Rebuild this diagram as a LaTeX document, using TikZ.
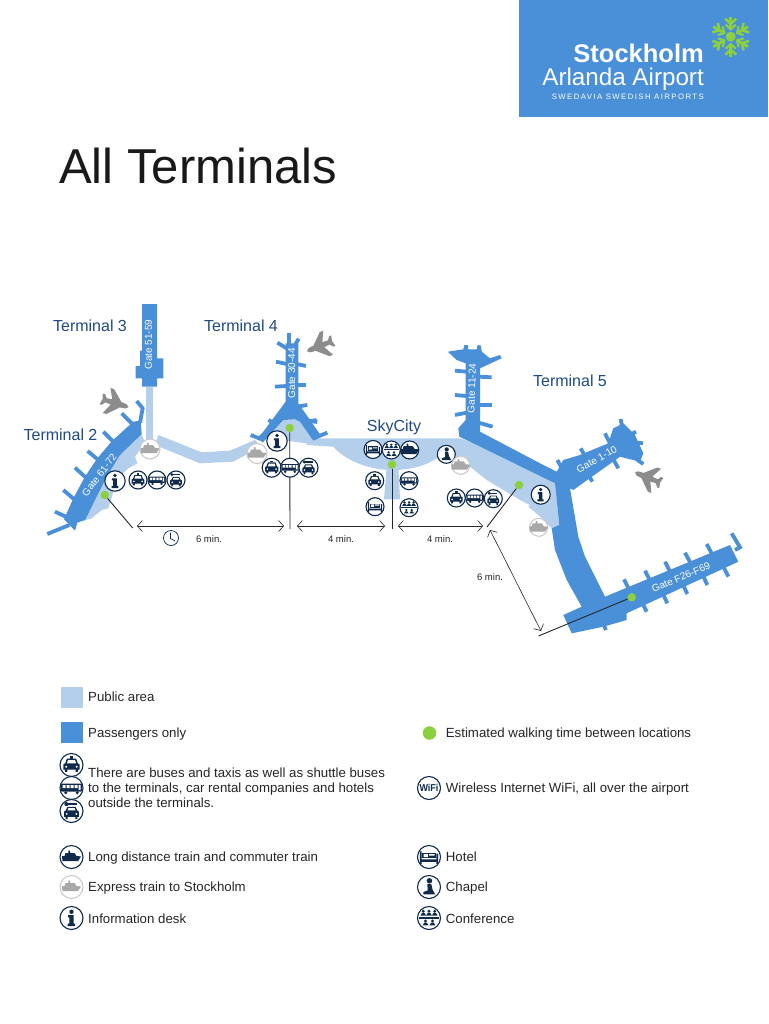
\documentclass[tikz,border=0pt]{standalone}
\usepackage{fontspec}
\setmainfont{Liberation Sans}
\newfontfamily\spacedfont[LetterSpace=18]{Liberation Sans}
\usetikzlibrary{arrows.meta}
\definecolor{pass}{HTML}{4A90D9}
\definecolor{pub}{HTML}{B3CFEC}
\definecolor{ink}{HTML}{0F2A4A}
\definecolor{lab}{HTML}{1F4A86}
\definecolor{dotg}{HTML}{8CCF3F}
\definecolor{txt}{HTML}{262626}
\definecolor{plane}{HTML}{8C8C8C}
\definecolor{exg}{HTML}{A8A8A8}
\tikzset{
  pf/.style={fill=pass,draw=none},
  pb/.style={fill=pub,draw=none},
  finger/.style={draw=pass,line width=3.8pt,line cap=butt},
  gatelab/.style={text=white,font=\fontsize{10}{12}\selectfont,inner sep=0pt},
  termlab/.style={text=lab,font=\fontsize{16}{18}\selectfont,inner sep=0pt},
  mins/.style={text=txt,font=\fontsize{9.5}{11}\selectfont,inner sep=0pt},
  legend/.style={text=txt,font=\fontsize{13.25}{15.3}\selectfont,inner sep=0pt,anchor=base west},
  walk/.style={draw=txt,line width=.9pt},
  span/.style={draw=txt,line width=.6pt,{Straight Barb[length=5pt,width=11pt]}-{Straight Barb[length=5pt,width=11pt]}},
  gdot/.style={circle,fill=dotg,draw=none,minimum size=8.5pt,inner sep=0pt},
  ring/.style={draw=ink,fill=white,line width=1.1pt},
  pics/taxi/.style={code={
    \draw[ring] (0,0) circle (10);
    \fill[ink] (-1.5,-7.5) rectangle (1.5,-5.5);
    \fill[ink] (-4,-5.5)--(4,-5.5)--(5.5,-1.5)--(7,-.5)--(7,4)--(5.7,4)--(5.7,6)--(3.5,6)--(3.5,4)--(-3.5,4)--(-3.5,6)--(-5.7,6)--(-5.7,4)--(-7,4)--(-7,-.5)--(-5.5,-1.5)--cycle;
    \fill[white] (-3,-4.2)--(3,-4.2)--(4,-1.5)--(-4,-1.5)--cycle;
    \fill[white] (-4.6,1.5) circle (1) (4.6,1.5) circle (1);
  }},
  pics/rental/.style={code={
    \draw[ring] (0,0) circle (10);
    \fill[ink] (-4.5,-6) circle (1.8);
    \fill[ink] (-4,-6.6) rectangle (4.5,-5.4);
    \fill[ink] (-3.5,-3.5)--(3.5,-3.5)--(5,-.5)--(6.5,.5)--(6.5,5)--(5.2,5)--(5.2,7)--(3.3,7)--(3.3,5)--(-3.3,5)--(-3.3,7)--(-5.2,7)--(-5.2,5)--(-6.5,5)--(-6.5,.5)--(-5,-.5)--cycle;
    \fill[white] (-2.6,-2.5)--(2.6,-2.5)--(3.5,-.5)--(-3.5,-.5)--cycle;
    \fill[white] (-4.2,2.5) circle (.9) (4.2,2.5) circle (.9);
  }},
  pics/bus/.style={code={
    \draw[ring] (0,0) circle (10);
    \fill[ink,rounded corners=.8] (-9,-3.8) rectangle (9,3.2);
    \fill[ink] (-5,4.2) circle (1.4) (5,4.2) circle (1.4);
    \fill[white] (-7.8,-2.6) rectangle (-5.2,0) (-4.3,-2.6) rectangle (-1.7,0) (-.8,-2.6) rectangle (1.8,0) (2.7,-2.6) rectangle (5.3,0) (6.2,-2.6) rectangle (8,1.8);
  }},
  pics/shipglyph/.style={code={
    \fill (-9.5,-1)--(-7,-1)--(-6,-4)--(-3.2,-4)--(-3.2,-6.5)--(-1.6,-6.5)--(-1.2,-4)--(3,-4)--(5,-1)--(9.5,-.6)--(6.5,4.2)--(-9,4.2)--cycle;
  }},
  pics/train/.style={code={
    \draw[ring] (0,0) circle (10);
    \pic[ink] {shipglyph};
  }},
  pics/express/.style={code={
    \draw[draw=exg!60,fill=white,line width=1.1pt] (0,0) circle (10);
    \pic[exg] {shipglyph};
  }},
  pics/info/.style={code={
    \draw[ring] (0,0) circle (10);
    \fill[ink] (0,-5.4) circle (1.9);
    \fill[ink] (-3,-2.6)--(1.8,-2.6)--(1.8,4.8)--(3.2,4.8)--(3.2,7)--(-3.4,7)--(-3.4,4.8)--(-1.8,4.8)--(-1.8,-.6)--(-3,-.6)--cycle;
  }},
  pics/hotel/.style={code={
    \draw[ring] (0,0) circle (10);
    \fill[ink] (-8,-5) rectangle (-6.5,6) (6.5,-3) rectangle (8,6) (-8,2) rectangle (8,4.2);
    \fill[ink] (-5.8,-3.5) rectangle (6,1.2);
    \fill[white] (-4.6,-2.5) rectangle (-1,.2) (0,-2.5) rectangle (4.8,-1.3);
  }},
  pics/chapel/.style={code={
    \draw[ring] (0,0) circle (10);
    \fill[ink] (.4,-5.4) circle (2.4);
    \fill[ink] (-1.4,-2.6)--(2,-2.6)--(3,2)--(5.4,6.5)--(-5,6.5)--(-5,4.4)--(-1.2,3)--cycle;
  }},
  pics/conf/.style={code={
    \draw[ring] (0,0) circle (10);
    \fill[ink] (-8.5,-.7) rectangle (8.5,.5);
    \foreach \px/\py in {-5/-2,0/-2,5/-2,-3/6.4,3/6.4}{
      \fill[ink] (\px,\py-3.8) circle (1.4);
      \fill[ink] (\px-2.6,\py)--(\px-1.1,\py-2.4)--(\px+1.1,\py-2.4)--(\px+2.6,\py)--cycle;
    }
  }},
  pics/aeroplane/.style={code={
    \fill[plane] (14,0)..controls (13,2) and (11,2.7) .. (8,2.7)--(6,2.7)--(-5,13)--(-8.8,13)--(-3.6,2.7)--(-9.5,2.2)--(-12,5.6)--(-14.4,5.6)--(-13,0)--(-14.4,-5.6)--(-12,-5.6)--(-9.5,-2.2)--(-3.6,-2.7)--(-8.8,-13)--(-5,-13)--(6,-2.7)--(8,-2.7)..controls (11,-2.7) and (13,-2) .. (14,0)--cycle;
  }},
}
\newcommand{\mic}[3]{\pic[scale=.9] at (#1,#2) {#3};}
\newcommand{\lic}[3]{\pic[scale=1.15] at (#1,#2) {#3};}
\begin{document}
\begin{tikzpicture}[x=1pt,y=-1pt]
\useasboundingbox (0,0) rectangle (768,1024);
\fill[white] (0,0) rectangle (768,1024);

% logo
\fill[pass] (519,0) rectangle (768,117);
\node[anchor=base east,inner sep=0pt,text=white,font=\bfseries\fontsize{25.5}{27}\selectfont] (logoa) at (704,62.7) {Stockholm};
\node[anchor=base east,inner sep=0pt,text=white,font=\fontsize{24.2}{26}\selectfont] (logob) at (704,86) {Arlanda Airport};
\node[anchor=base east,inner sep=0pt,text=white,font=\spacedfont\fontsize{7.8}{9}\selectfont] (logoc) at (704,100) {SWEDAVIA SWEDISH AIRPORTS};
\begin{scope}[shift={(730.7,36.7)}]
  \fill[dotg] (0,0) circle (5);
  \foreach \a in {0,60,120,180,240,300}{
    \begin{scope}[rotate=\a]
      \draw[dotg,line width=2.8pt] (0,7)--(0,20);
      \draw[dotg,line width=2.6pt] (-5.5,18)--(0,13)--(5.5,18);
      \draw[dotg,line width=2.2pt] (-5,12)--(0,7.5)--(5,12);
    \end{scope}
  }
\end{scope}

% title
\node[anchor=base west,inner sep=0pt,text=black!90,font=\fontsize{49}{52}\selectfont] (title) at (59,184) {All Terminals};

% public areas
\begin{scope}[shift={(20,290)},x=.33333pt,y=-.33333pt]
  \fill[pb] (377,290)--(400,290)--(400,450)--(377,450)--cycle;
  \fill[pb] (365,432)--(375,460)--(345,500)--(352,520)--(325,535)--(300,560)--(280,605)--(265,655)--(245,660)--(215,685)--(192,692)--(225,630)--(260,560)--(300,495)--cycle;
  \fill[pb] (415,435)--(545,487)--(630,482)--(705,450)--(722,470)--(640,515)--(540,520)--(405,465)--cycle;
  \fill[pb] (790,390)--(825,388)--(840,395)--(895,455)--(860,460)--(800,452)--(745,445)--cycle;
\end{scope}
\fill[pb] (306.7,438.3)--(460,438.3)--(470,441.7)--(555,483.3)--(559.3,525)--(551.7,528.3)--(538.3,515)--(528.3,506.7)--(530,505)--(520,500)--(486.7,480)--(470,466.7)--(436.7,458.3)
  .. controls (422,468) and (405,470) .. (392,470) .. controls (368,470) and (345,460) .. (333.3,446.7)--(306.7,445)--cycle;
\begin{scope}[shift={(300,330)},x=.33333pt,y=-.33333pt]
  \fill[pb] (260,410)--(295,410)--(300,508)--(252,508)--cycle;
\end{scope}

% terminal 3 (passengers)
\begin{scope}[shift={(20,290)},x=.33333pt,y=-.33333pt]
  \fill[pf] (366,42)--(411,42)--(411,205)--(430,205)--(430,265)--(411,265)--(411,290)--(366,290)--(366,265)--(347,265)--(347,228)--(360,228)--(360,182)--(366,182)--cycle;
  % terminal 2
  \fill[pf] (362,392)--(365,432)--(300,495)--(260,560)--(225,630)--(195,690)--(172,698)--(165,722)--(132,688)--(160,625)--(195,560)--(232,505)--(277,452)--(340,395)--cycle;
  \draw[finger] (360,398)--(368,355)--(350,333);
  \draw[finger] (335,400)--(305,370);
  \draw[finger] (280,455)--(250,425);
  \draw[finger] (235,510)--(203,483);
  \draw[finger] (200,565)--(165,533);
  \draw[finger] (165,630)--(130,600);
  \draw[finger] (148,685)--(105,665);
  \draw[finger] (148,705)--(82,732);
  % terminal 4
  \fill[pf] (797,160)--(835,160)--(835,340)--(905,440)--(880,452)--(840,395)--(825,388)--(790,390)--(745,440)--(728,458)--(715,440)--(730,425)--(797,335)--cycle;
  \draw[finger] (806,128)--(806,165);
  \draw[finger] (772,158)--(805,178);
  \draw[finger] (836,146)--(822,170);
  \draw[finger] (768,215)--(800,222);
  \draw[finger] (830,222)--(858,228);
  \draw[finger] (765,290)--(800,288);
  \draw[finger] (830,285)--(858,285);
  \draw[finger] (830,350)--(862,345);
  \draw[finger] (865,392)--(892,396);
  \draw[finger] (745,390)--(772,405);
  \draw[finger] (692,435)--(730,450);
\end{scope}
\begin{scope}[shift={(300,330)},x=.33333pt,y=-.33333pt]
  \draw[finger] (25,275)--(50,270);
  \draw[finger] (40,325)--(82,308);
\end{scope}

% terminal 5 main body
\fill[pf] (447.7,351.7)--(463.3,349.3)--(464.3,345)--(467.7,345)--(468.3,349.3)--(476.7,349.3)--(477.7,345)--(481,345.7)--(481.7,351.7)--(490,358.3)--(500,355)--(501.7,358.3)--(480,368.3)--(480,431.7)--(543.3,465)--(556.7,471.7)--(563.3,460)--(580,455)--(608.3,443.3)--(613.3,428.3)--(623.3,423.3)--(635,435)--(643.3,453.3)--(640,461.7)--(620,456.7)--(573.3,490)--(570,488.3)--(578.3,536.7)--(585,556.7)--(605,596.7)--(730,545)--(738.3,561.7)--(626.7,613.3)--(626.7,620)--(603.3,626.7)--(571.7,633.3)--(563.3,615)--(581.7,606.7)--(566.7,580)--(555,550)--(551.7,528.3)--(559.3,525)--(555,483.3)--(470,441.7)--(459.3,436.7)--(458.3,428.3)--(465.7,420)--(465.7,363.3)--(456.7,360)--cycle;
\begin{scope}[shift={(300,330)},x=.33333pt,y=-.33333pt]
  \draw[finger] (465,122)--(500,125);
  \draw[finger] (535,140)--(575,142);
  \draw[finger] (465,195)--(500,198);
  \draw[finger] (535,225)--(575,225);
  \draw[finger] (465,255)--(500,248);
  \draw[finger] (535,278)--(578,290);
\end{scope}
\begin{scope}[shift={(470,400)},x=.33333pt,y=-.33333pt]
  \draw[finger] (262,180)--(274,202);
  \draw[finger] (332,145)--(347,172);
  \draw[finger] (405,100)--(420,130);
  \draw[finger] (452,57)--(456,80);
  \draw[finger] (498,95)--(480,105);
  \draw[finger] (518,128)--(498,128);
  \draw[finger] (520,192)--(500,178);
  \draw[finger] (445,205)--(430,178);
  \draw[finger] (367,245)--(352,218);
  \draw[finger] (462,538)--(477,568);
  \draw[finger] (525,512)--(540,542);
  \draw[finger] (585,485)--(600,515);
  \draw[finger] (645,458)--(662,490);
  \draw[finger] (710,432)--(726,462);
  \draw[finger] (785,400)--(810,442)--(795,450);
  \draw[finger] (530,635)--(515,605);
  \draw[finger] (592,610)--(578,580);
  \draw[finger] (652,582)--(638,552);
  \draw[finger] (712,555)--(698,525);
  \draw[finger] (775,530)--(760,500);
  \draw[finger] (408,690)--(395,662);
\end{scope}

% planes
\pic[rotate=-17] at (115,403) {aeroplane};
\pic[rotate=202] at (320,346) {aeroplane};
\pic[rotate=158] at (648,477.7) {aeroplane};

% gate labels
\node[gatelab,rotate=90] (g3) at (148.5,344.7) {Gate 51-59};
\node[gatelab,rotate=90] (g4) at (291.7,373.3) {Gate 30-44};
\node[gatelab,rotate=53] (g2) at (99.3,475) {Gate 61-72};
\node[gatelab,rotate=88] (g5a) at (471.7,388.3) {Gate 11-24};
\node[gatelab,rotate=29] (g5b) at (596.7,459.3) {Gate 1-10};
\node[gatelab,rotate=23] (g5c) at (681,577.3) {Gate F26-F69};

% terminal labels
\node[termlab] (t3) at (90,326) {Terminal 3};
\node[termlab] (t4) at (241,326) {Terminal 4};
\node[termlab] (t2) at (60.5,435) {Terminal 2};
\node[termlab] (t5) at (570,381) {Terminal 5};
\node[termlab] (sky) at (394,427) {SkyCity};

% walking time lines
\node[gdot] (d2) at (104.7,495) {};
\node[gdot] (d4) at (289.7,428) {};
\node[gdot] (ds) at (392,464.5) {};
\node[gdot] (d5) at (519,485) {};
\node[gdot] (df) at (631.7,597.3) {};
\coordinate (e2) at (132.7,528);
\coordinate (e4) at (290,529);
\coordinate (es) at (392,529);
\coordinate (e5) at (487,527);
\coordinate (ef) at (538.5,636);
\draw[walk] (d2)--(e2);
\draw[walk] (d4)--(e4);
\draw[walk] (ds)--(es);
\draw[walk] (d5)--(e5);
\draw[walk] (df)--(ef);
\coordinate (a1) at (137,526);
\coordinate (a2) at (284,526);
\coordinate (a3) at (297,526);
\coordinate (a4) at (385,526);
\coordinate (a5) at (398,526);
\coordinate (a6) at (483,526);
\coordinate (a7) at (490,530);
\coordinate (a8) at (541,631);
\draw[span] (a1)--(a2);
\draw[span] (a3)--(a4);
\draw[span] (a5)--(a6);
\draw[span] (a7)--(a8);
\node[mins] (m1) at (209,539) {6 min.};
\node[mins] (m2) at (341,539) {4 min.};
\node[mins] (m3) at (440,539) {4 min.};
\node[mins] (m4) at (490,577) {6 min.};
% clock
\draw[draw=ink,fill=white,line width=.7pt] (171,538) circle (7.5);
\draw[draw=ink,line width=.7pt] (170.5,532.5)--(170.5,538.5)--(175,541);

% map icons
\mic{138}{480}{taxi}\mic{157}{480}{bus}\mic{176}{480}{rental}
\pic[scale=1.02] at (115,481) {info};
\pic[scale=1.0] at (150,449) {express};
\pic[scale=1.0] at (257,453.5) {express};
\pic[scale=1.02] at (277,441) {info};
\pic[scale=.95] at (271.7,467.7) {taxi};
\pic[scale=.95] at (290,467.7) {bus};
\pic[scale=.95] at (308.5,467.7) {rental};
\mic{373}{449.5}{hotel}\mic{391.3}{450}{conf}\mic{409.7}{450}{train}
\mic{374.7}{480.7}{taxi}\mic{409}{480.7}{bus}
\mic{375}{506.7}{hotel}\mic{409}{507.7}{conf}
\mic{446.3}{454.3}{chapel}\mic{460.7}{465.3}{express}
\mic{456.3}{498}{taxi}\mic{474.7}{498}{bus}\mic{493.3}{498.7}{rental}
\pic[scale=.95] at (540.7,494.7) {info};
\mic{538.7}{527.3}{express}

% legend, left
\fill[pub] (60.5,687) rectangle (83,708);
\fill[pass] (60.5,722) rectangle (83,743);
\node[legend] (l1) at (88,701) {Public area};
\node[legend] (l2) at (88,737) {Passengers only};
\lic{71.5}{765}{taxi}\lic{71.5}{788}{bus}\lic{71.5}{811}{rental}
\node[legend,align=left,anchor=north west] (l3) at (88,767.5) {There are buses and taxis as well as shuttle buses\\to the terminals, car rental companies and hotels\\outside the terminals.};
\lic{71.5}{857}{train}
\lic{71.5}{887}{express}
\lic{71.5}{918}{info}
\node[legend] (l4) at (88,861) {Long distance train and commuter train};
\node[legend] (l5) at (88,891.5) {Express train to Stockholm};
\node[legend] (l6) at (88,923) {Information desk};

% legend, right
\node[gdot,minimum size=13.5pt] (ld) at (429.5,733) {};
\node[legend] (r1) at (445.7,737) {Estimated walking time between locations};
\draw[ring] (429,788) circle (11.5);
\node[inner sep=0pt,text=ink,font=\bfseries\fontsize{10}{10}\selectfont,xscale=.9] (wifi) at (429,788) {WiFi};
\node[legend] (r2) at (445.7,792.5) {Wireless Internet WiFi, all over the airport};
\lic{429}{857}{hotel}
\lic{429}{887}{chapel}
\lic{429}{918}{conf}
\node[legend] (r3) at (445.7,861) {Hotel};
\node[legend] (r4) at (445.7,891.5) {Chapel};
\node[legend] (r5) at (445.7,923) {Conference};
\end{tikzpicture}
\end{document}
